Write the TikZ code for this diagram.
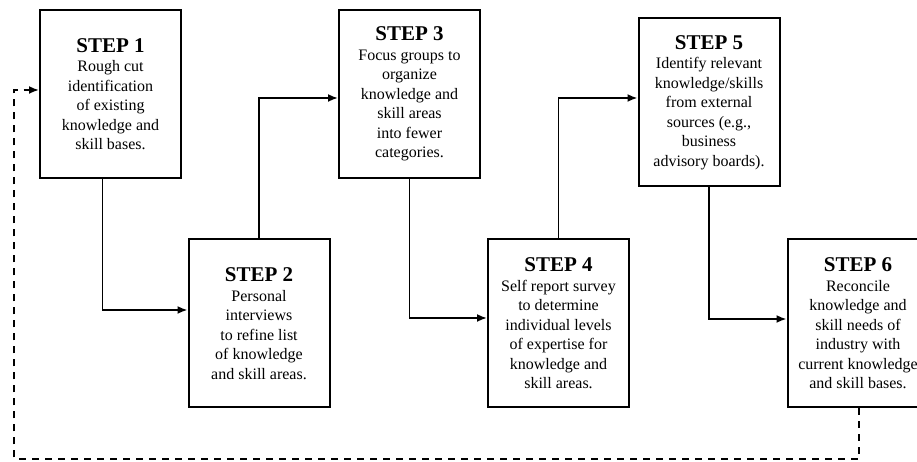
\documentclass[tikz,border=0pt]{standalone}
\usepackage{fontspec}
\setmainfont{Liberation Serif}
\usetikzlibrary{arrows.meta}
\newcommand{\steptitle}[1]{{\fontsize{21}{24}\selectfont\bfseries #1}}

\begin{document}
\begin{tikzpicture}[x=1pt,y=1pt,
  stepbox/.style={draw,line width=2pt,minimum width=141pt,minimum height=168pt,align=center,inner sep=2pt,font=\fontsize{16}{19.5}\selectfont},
  link/.style={line width=1.8pt,-{Latex[length=10pt,width=8pt]}},
  back/.style={link,dash pattern=on 7pt off 6pt}]
\useasboundingbox (0,0) rectangle (917,462);
\node[stepbox] (s1) at (110.5,368) {\steptitle{STEP 1}\\Rough cut\\identification\\of existing\\knowledge and\\skill bases.};
\node[stepbox] (s2) at (259,138.5) {\steptitle{STEP 2}\\Personal\\interviews\\to refine list\\of knowledge\\and skill areas.};
\node[stepbox] (s3) at (409.5,368) {\steptitle{STEP 3}\\Focus groups to\\organize\\knowledge and\\skill areas\\into fewer\\categories.};
\node[stepbox] (s4) at (558.5,138.5) {\steptitle{STEP 4}\\Self report survey\\to determine\\individual levels\\of expertise for\\knowledge and\\skill areas.};
\node[stepbox] (s5) at (709,359.5) {\steptitle{STEP 5}\\Identify relevant\\knowledge/skills\\from external\\sources (e.g.,\\business\\advisory boards).};
\node[stepbox] (s6) at (858,138.5) {\steptitle{STEP 6}\\Reconcile\\knowledge and\\skill needs of\\industry with\\current knowledge\\and skill bases.};
\coordinate (r) at (14,3);
\draw[link] ([xshift=-8pt]s1.south) |- ([yshift=13.5pt]s2.west);
\draw[link] (s2.north) |- ([yshift=-4pt]s3.west);
\draw[link] (s3.south) |- ([yshift=5.5pt]s4.west);
\draw[link] (s4.north) |- ([yshift=4.5pt]s5.west);
\draw[link] (s5.south) |- ([yshift=4.5pt]s6.west);
\draw[back] ([xshift=1pt]s6.south) |- (r) |- ([yshift=4pt]s1.west);
\end{tikzpicture}
\end{document}
